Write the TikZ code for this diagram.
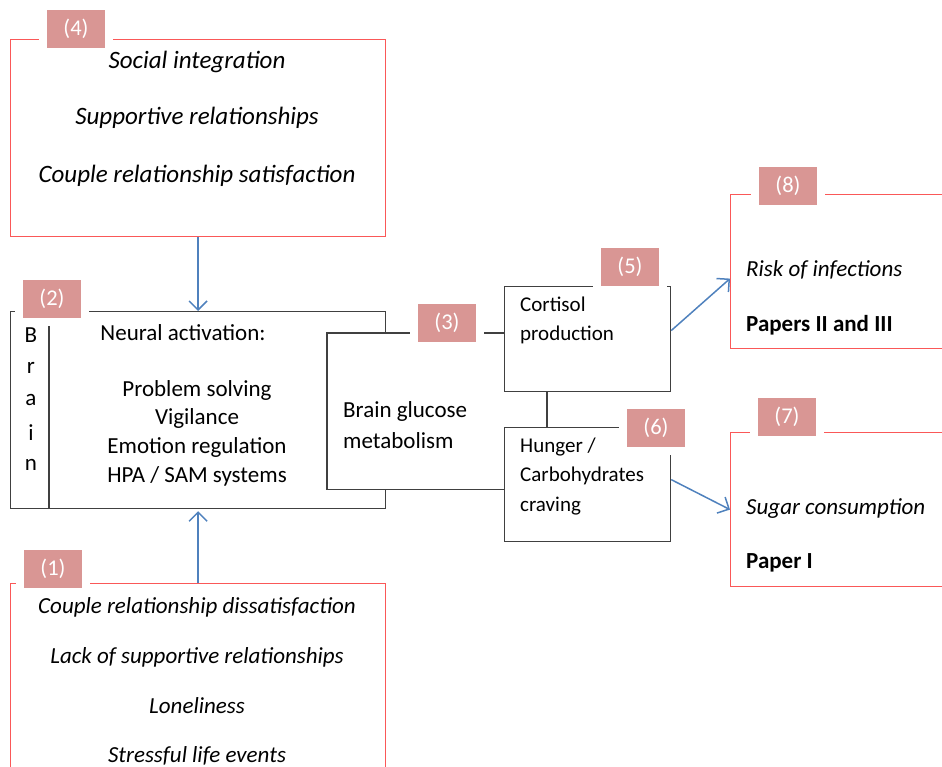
\documentclass[tikz,border=0pt]{standalone}
\usepackage{fontspec}
\setmainfont{Carlito}
\usetikzlibrary{arrows.meta}
\definecolor{tagpink}{RGB}{217,150,148}
\definecolor{boxred}{RGB}{250,88,88}
\definecolor{linkblue}{RGB}{79,129,189}
\definecolor{boxgrey}{RGB}{64,64,64}
\tikzset{
	redbox/.style={draw=boxred, line width=1.2pt, anchor=north west, inner sep=0pt},
	greybox/.style={draw=boxgrey, line width=1.2pt, fill=white, anchor=north west, inner sep=0pt},
	greyline/.style={draw=boxgrey, line width=1.2pt},
	tag/.style={fill=tagpink, draw=white, line width=8pt, text=white, anchor=north west,
		minimum width=66pt, minimum height=46pt, inner sep=0pt, font=\fontsize{22.5}{22.5}\selectfont},
	link/.style={draw=linkblue, line width=1.5pt, -{Straight Barb[length=9pt,width=18pt]}},
	bigtxt/.style={inner sep=0pt, align=center, font=\fontsize{25}{28.7}\selectfont},
	midtxt/.style={inner sep=0pt, align=center, font=\fontsize{23}{28.7}\selectfont},
	smalltxt/.style={inner sep=0pt, align=left, anchor=west, font=\fontsize{21}{29.5}\selectfont},
	sidetxt/.style={inner sep=0pt, anchor=west, font=\fontsize{23}{24}\selectfont},
}
\begin{document}
\begin{tikzpicture}[x=1pt, y=-1pt]
	\useasboundingbox (0,0) rectangle (942,767);
	\clip (0,0) rectangle (942,767);

	% red boxes
	\node[redbox, minimum width=375pt, minimum height=197pt] (social) at (10,39) {};
	\node[redbox, minimum width=375pt, minimum height=200pt] (stress) at (10,583) {};
	\node[redbox, minimum width=230pt, minimum height=154pt] (infect) at (730,194) {};
	\node[redbox, minimum width=230pt, minimum height=154pt] (sugar) at (730,432) {};

	% brain and the boxes next to it
	\node[greybox, minimum width=375pt, minimum height=197pt] (brain) at (10,311) {};
	\draw[greyline] ([xshift=39pt]brain.south west) -- ([xshift=39pt]brain.north west);
	\node[greybox, draw=none, minimum width=177pt, minimum height=155pt] (glucose) at (327,333) {};
	\draw[greyline] (glucose.north east) -- (glucose.north west)
		-- (glucose.south west) -- (glucose.south east);
	\node[greybox, minimum width=166pt, minimum height=105pt] (cort) at (504,286) {};
	\node[greybox, minimum width=166pt, minimum height=114pt] (hunger) at (504,427) {};
	\coordinate (tie) at (547,391);
	\draw[greyline] (tie) -- (tie |- hunger.north);

	% numbered tags
	\node[tag] (t4) at (39,2) {(4)};
	\node[tag] (t2) at (15,272) {(2)};
	\node[tag] (t3) at (410,296) {(3)};
	\node[tag] (t5) at (593,240) {(5)};
	\node[tag] (t6) at (619,401) {(6)};
	\node[tag] (t8) at (751,159) {(8)};
	\node[tag] (t7) at (750,390) {(7)};
	\node[tag] (t1) at (16,542) {(1)};

	% texts
	\node[bigtxt] (s1) at (197,62) {\itshape Social integration};
	\node[bigtxt] (s2) at (197,118) {\itshape Supportive relationships};
	\node[bigtxt] (s3) at (197,176) {\itshape Couple relationship satisfaction};

	\foreach \l [count=\i from 0] in {B,r,a,i,n}{%
		\node[midtxt] (b\i) at (31,335+32.5*\i) {\l};
	}
	\node[midtxt] (neural) at (183,333) {Neural activation:};
	\node[midtxt] (tasks) at (197,433) {Problem solving\\Vigilance\\Emotion regulation\\HPA / SAM systems};

	\node[smalltxt, font=\fontsize{23}{31}\selectfont] (gtxt) at (343,425) {Brain glucose\\metabolism};
	\node[smalltxt] (ctxt) at (520,320.5) {Cortisol\\production};
	\node[smalltxt] (htxt) at (520,476.5) {Hunger /\\Carbohydrates\\craving};

	\node[sidetxt] (i1) at (746,270) {\itshape Risk of infections};
	\node[sidetxt] (i2) at (746,325) {\bfseries Papers II and III};
	\node[sidetxt] (u1) at (746,509) {\itshape Sugar consumption};
	\node[sidetxt] (u2) at (746,563) {\bfseries Paper I};

	\node[midtxt] (d1) at (197,607) {\itshape Couple relationship dissatisfaction};
	\node[midtxt] (d2) at (197,657) {\itshape Lack of supportive relationships};
	\node[midtxt] (d3) at (197,706) {\itshape Loneliness};
	\node[midtxt] (d4) at (197,756) {\itshape Stressful life events};

	% arrows
	\draw[link] (social.south) -- (brain.north);
	\draw[link] (stress.north) -- ([yshift=-2pt]brain.south);
	\draw[link] ([yshift=8.5pt]cort.east) -- ([yshift=-7pt]infect.west);
	\draw[link] ([yshift=5pt]hunger.east) -- (sugar.west);
\end{tikzpicture}
\end{document}
